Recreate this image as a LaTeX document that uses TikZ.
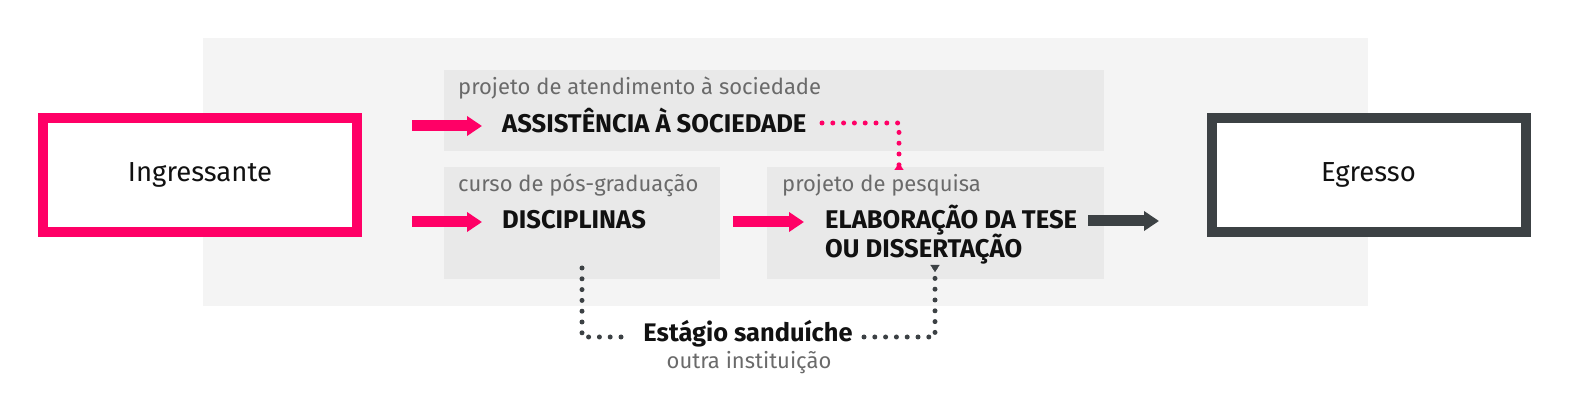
\documentclass[tikz,border=0pt]{standalone}
\usepackage{fontspec}
\setmainfont{Fira Sans}
\usetikzlibrary{arrows.meta}
\definecolor{pinkc}{HTML}{FF0066}
\definecolor{darkc}{HTML}{3C4144}
\definecolor{bgc}{HTML}{F4F4F4}
\definecolor{boxc}{HTML}{E9E9E9}
\definecolor{grayt}{HTML}{6A6A6A}
\definecolor{textc}{HTML}{111111}
\tikzset{
  panel/.style={fill=boxc, draw=none, anchor=north west, inner sep=0pt},
  endbox/.style={draw=#1, fill=white, line width=10pt, minimum width=314pt, minimum height=114pt, inner sep=0pt, font=\fontsize{27.5}{33}\selectfont, text=textc},
  graylabel/.style={anchor=base west, inner sep=0pt, text=grayt, font=\fontsize{22}{26}\selectfont},
  boldlabel/.style={anchor=base west, inner sep=0pt, text=textc, font=\bfseries\fontsize{25.6}{30}\selectfont},
  bigarrow/.style={draw=#1, line width=11pt, -{Triangle[length=15pt,width=19pt]}},
  dotline/.style={draw=#1, line width=5pt, line cap=round, dash pattern=on 0pt off 10.8pt},
  dottip/.style={-{Triangle[length=7pt,width=9pt]}}
}
\begin{document}
\begin{tikzpicture}[x=1pt,y=-1pt]
\useasboundingbox (0,0) rectangle (1575,403);
% background panel
\node[panel, fill=bgc, minimum width=1165pt, minimum height=268pt] (bg) at (203,38) {};
% panels
\node[panel, minimum width=660pt, minimum height=81pt] (socbox) at (444,70) {};
\node[panel, minimum width=276pt, minimum height=112pt] (discbox) at (444,167) {};
\node[panel, minimum width=337pt, minimum height=112pt] (pesqbox) at (767,167) {};
% end boxes
\node[endbox=pinkc] (ingr) at (200,175) {Ingressante};
\node[endbox=darkc] (egr) at (1368.5,175) {Egresso};
% labels
\node[graylabel] (soclab) at (458,95) {projeto de atendimento à sociedade};
\node[boldlabel] (soc) at (502,133) {ASSISTÊNCIA À SOCIEDADE};
\node[graylabel] (disclab) at (458,192) {curso de pós-graduação};
\node[boldlabel] (disc) at (502,229) {DISCIPLINAS};
\node[graylabel] (pesqlab) at (782,192) {projeto de pesquisa};
\node[boldlabel] (elab1) at (825,229) {ELABORAÇÃO DA TESE};
\node[boldlabel] (elab2) at (825,258) {OU DISSERTAÇÃO};
\node[anchor=base, inner sep=0pt, text=textc, font=\bfseries\fontsize{25.4}{30}\selectfont] (sand) at (748,342) {Estágio sanduíche};
\node[anchor=base, inner sep=0pt, text=grayt, font=\fontsize{22}{26}\selectfont] (outra) at (749,369) {outra instituição};
% arrow coordinates
\coordinate (a1s) at (412,126); \coordinate (a1e) at (482,126);
\coordinate (a2s) at (412,222); \coordinate (a2e) at (482,222);
\coordinate (a3s) at (733,222); \coordinate (a3e) at (804,222);
\coordinate (a4s) at (1088,221); \coordinate (a4e) at (1159,221);
\draw[bigarrow=pinkc] (a1s) -- (a1e);
\draw[bigarrow=pinkc] (a2s) -- (a2e);
\draw[bigarrow=pinkc] (a3s) -- (a3e);
\draw[bigarrow=darkc] (a4s) -- (a4e);
% dotted connectors
\coordinate (p1) at (822,123); \coordinate (p2) at (899,163);
\draw[dotline=pinkc] (p1) -| ([yshift=-8pt]p2);
\draw[draw=pinkc, fill=pinkc, dottip, line width=0.1pt] ([yshift=-1pt]p2) -- (p2);
\coordinate (d1) at (582,268); \coordinate (s1) at (629,337);
\coordinate (s2) at (864,337); \coordinate (d2) at (935,272);
\draw[dotline=darkc] (d1) |- (s1);
\draw[dotline=darkc] (s2) -| ([yshift=8pt]d2);
\draw[draw=darkc, fill=darkc, dottip, line width=0.1pt] ([yshift=1pt]d2) -- (d2);
\end{tikzpicture}
\end{document}
